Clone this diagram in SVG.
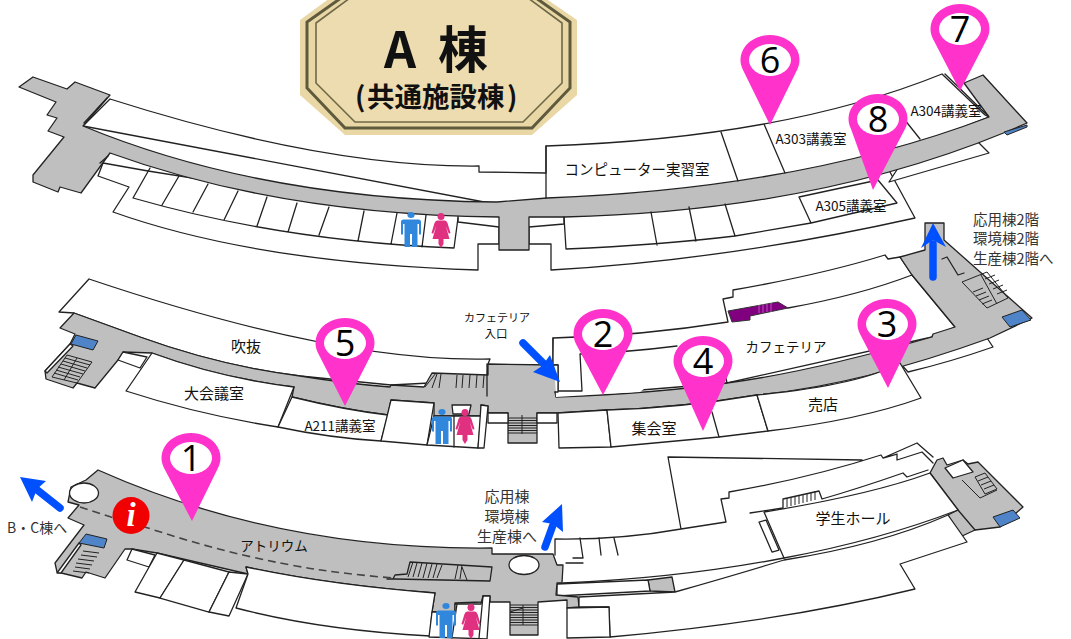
<svg xmlns="http://www.w3.org/2000/svg" xmlns:xlink="http://www.w3.org/1999/xlink" width="1071" height="639" viewBox="0 0 1071 639">
<style>
text{font-family:"Noto Sans CJK JP","Noto Sans",sans-serif;fill:#111;dominant-baseline:central}
.g{fill:#bfbfbf;stroke:#222;stroke-width:1.3;stroke-linejoin:round}
.r{fill:#fff;stroke:#222;stroke-width:1.3;stroke-linejoin:round}
.l{fill:none;stroke:#222;stroke-width:1.3;stroke-linejoin:round;stroke-linecap:round}
.s{fill:none;stroke:#222;stroke-width:1}
.b{fill:#4f84c8;stroke:#222;stroke-width:1}
.pin{fill:#ff33cc}
.num{font-family:"Open Sans","Noto Sans",sans-serif;font-size:36px;text-anchor:middle;fill:#000}
.t15{font-size:15px;text-anchor:middle}
.t13{font-size:13.5px;text-anchor:middle}
.t14g{font-size:14.5px;fill:#333}
.t15g{font-size:15px;fill:#333;text-anchor:middle}
.arr{fill:none;stroke:#0050ff;stroke-width:7.5;stroke-linecap:round}
.head{fill:#0050ff}
.man{fill:#3087dc}
.woman{fill:#e03080}
</style>
<defs>
<g id="man-icon"><ellipse cx="0" cy="3" rx="3.6" ry="3"/><path d="M-7.5 7.500H7.500Q10 7.500 10 10V22.500H8V12H6.500V35H1V22H-1V35H-6.500V12H-8V22.500H-10V10Q-10 7.500-7.500 7.500Z"/></g>
<g id="woman-icon"><circle cx="0" cy="3.500" r="3.500"/><path d="M-4 7.500H4Q5.500 7.500 6.500 10L9.500 20L7.800 20.800L4.800 13L8.500 26H2.500V31L0 35L-2.500 31V26H-8.500L-4.800 13L-7.800 20.800L-9.500 20L-6.500 10Q-5.500 7.500-4 7.500Z"/></g>
<ellipse id="pin-eye" cx="0" cy="0" rx="21" ry="16" fill="#fff"/>
</defs>

<g id="title-badge">
<path d="M330 -2L300 20V95L345 135H532L577 95V20L545 -2Z" fill="#e9d8a6"/>
<path d="M341 -2L307 22V88L345 128H532L570 88V22L536 -2" fill="none" stroke="#5f5a3c" stroke-width="3"/>
<path d="M350 -2L316 23V83L355 122H523L562 83V23L528 -2" fill="#ecdcb0" stroke="#6e6848" stroke-width="1.6"/>
<text x="384" y="46" font-size="50" font-weight="700">A <tspan x="438">棟</tspan></text>
<text x="355" y="95" font-size="27.5" font-weight="700">(<tspan x="367">共通施設棟</tspan><tspan x="507">)</tspan></text>
</g>

<g id="floor-3">
<path class="r" d="M110 99Q325.500 167.500 479 166L479 172 546 173 546 146Q784 138 942 74L985 115 989 117 800 190 500 205 83 126Z"/>
<path class="r" d="M103 163L148 171 300 195 458 212 458 222 499 227V244H478V270Q256.500 263 113 212L129 187 98 176Z"/>
<path class="r" d="M529 227L564 224V212L811 188 890 170 890 172 915 218Q727 260 551 270V244H529Z"/>
<path class="r" d="M889 182L989 153 978 142 900 165Z"/>
<path class="g" d="M19 87L33 77 67 89 75 82 110 95 83 126Q262 200 497 202L547 198Q802 188.500 989 117L964 83 983 75 1027 123 1006 132Q813 211.500 564 217L529 217 529 250 499 250 499 217Q281.500 215 110 153L81 193 60 187 58 192 33 182 33 175 64 137 48 131 57 118 47 115 56 102Z"/>
<path class="b" d="M1004 132L1027 125 1027 127 1007 135Z"/>
<path class="l" d="M108 156L100 163M546 146V198M721 132L738 181M764 124L785 173M885 95L920 139"/>
<path class="l" d="M945 74L988 116M84 123L107 98"/>
<path class="l" d="M150 168L133 198Q282.500 241 454 248L458 218M179 176L162 205M208 184L193 212M238 191L224 220M267 197L257 226M297 203L288 232M329 207L319 235M364 211L358 241M397 213L391 244M426 215L422 247"/>
<path class="l" d="M564 217L566 249Q660 245 735 236L811 223 897 203 878 180M651 212L657 245M689 207L696 241M725 204L735 236M799 197L811 223M799 197L878 180"/>
</g>

<g id="floor-2">
<path class="r" d="M89 279Q338.500 363 490 359L488 364 487 380 391 385 300 376Q220 366 140 337L74 313 59 312Z"/>
<path class="r" d="M553 338Q640 336 728 322L723 299 733 297 733 290Q820 275 885 255L888 259 900 257 912 275 955 327 932 337 727 383 556 397 553 365Z"/>
<path class="r" d="M908 372Q950 362 993 347L987 338 900 363Z"/>
<path class="g" d="M74 313L140 337Q220 366 300 376Q350 384 390 387L391 385 424 387 432 373 488 375 488 364 553 365 558 365 558 392 555 392 556 397Q660 393 727 383Q810 372 932 337L933 334 955 327 912 275 900 257 925 250 925 223 944 223 944 240 1032 318 990 338Q860 385 757 395Q680 408 607 410L557 413 537 413 537 443 508 443 508 413 488 413 488 406 481 405 481 416 434 416 434 403 391 400 388 415Q345 410 292 397L294 387Q220 378 152 353L123 352 118 360 95 388 77 383 73 388 46 379 45 371 70 344 75 334 60 328Z"/>
<path class="r" d="M123 352L147 357 140 368 118 360Z"/>
<path class="r" d="M152 353Q220 378 294 387L278 427Q200 415 126 391Z"/>
<path class="r" d="M292 397Q345 410 388 415L381 441Q330 438 278 427Z"/>
<path class="r" d="M391 400L434 403 427 445 381 441Z"/>
<path class="r" d="M434 416H481L478 448 427 445Z"/>
<path class="l" d="M454 416V447"/>
<path class="r" d="M452 405H471L469 414H453Z"/>
<path class="r" d="M481 405L488 406 484 448 478 448Z"/>
<path class="r" d="M488 413H508V423H488ZM537 413H557V423H537Z"/>
<path class="r" d="M558 413L607 410 611 447 559 448Z"/>
<path class="r" d="M607 410Q680 408 757 395L768 431 719 437 611 447Z"/>
<path class="r" d="M757 395Q860 385 900 363L921 398Q860 420 768 431Z"/>
<path class="l" d="M712 412L719 437"/>
<path class="r" d="M553 338V365H558V391H582L580 354Q630 352 677 346L682 360 640 392 556 397Z" style="stroke:none"/>
<path class="l" d="M553 338V365H558V391L582 391 580 354Q630 352 677 346M555 392H558M788 308Q860 295 912 275M725 373L727 383M487 364V396"/>
<path d="M728 311L778 302 788 308 750 316V320L732 322Z" fill="#800080" stroke="#333" stroke-width="1"/>
<path d="M759 305V313M763 304V313M767 304V312M771 303V312" stroke="#c050c0" stroke-width="1"/>
<path class="l" d="M942 259L947 257 958 275 964 273"/>
<path class="s" d="M962 282L987 272 1008 298 987 308ZM981 275L997 304M973 292L983 288M976 296L986 292M979 300L989 296M982 304L992 300M985 279L995 275M989 284L999 280M993 289L1003 285M997 294L1007 290"/>
<path class="b" d="M1002 317L1022 310 1031 320 1010 327Z"/>
<path class="b" d="M76 335L98 341 93 350 71 344Z"/>
<path class="r" d="M45 371L70 344 73 346 47 373Z"/>
<path class="s" d="M67 355L92 362 77 383 52 377ZM65 358L90 365M63 361L87 368M61 364L85 371M58 367L83 374M56 370L80 377M54 373L78 380M77 358L64 380"/>
<path class="s" d="M425 387L436 373M432 388L437 374M439 388L441 374M456 388L457 375M462 388L463 375M469 388L470 375M476 388L477 375M483 388L484 375"/>
<path class="s" d="M508 418H537M508 420.500H537M508 423H537M508 425.500H537M508 428H537M508 430.500H537M508 433H537M522 415V434"/>
<text class="t15" x="246" y="345">吹抜</text>
<text class="t15" x="214" y="392">大会議室</text>
<text class="t13" x="340" y="425">A211講義室</text>
<text x="497" y="317" font-size="11" text-anchor="middle">カフェテリア</text>
<text x="496" y="333" font-size="11.500" text-anchor="middle">入口</text>
<text class="t13" x="786" y="346">カフェテリア</text>
<text class="t15" x="823" y="403">売店</text>
<text class="t15" x="654" y="427">集会室</text>
</g>

<g id="floor-1">
<path class="l" d="M555 555V539Q620 540 681 529L726 522 721 499 729 498 729 492Q810 478 881 455L883 458 917 443 933 457M681 529L668 457 862 460M897 460L922 452 933 463M883 458L897 454 897 460"/>
<path class="l" d="M750 513L783 508 783 499 819 491 822 499Q860 488 903 473L907 477 928 470"/>
<path class="s" d="M787 498V507M791 497V506M795 496V505M799 495V504M803 494V503M807 493V502M811 492V501M815 491V500"/>
<path class="l" d="M580 538L583 558H573M583 563H566M599 538L601 555M614 538L618 555"/>
<path class="g" d="M930 473L937 460 943 458 947 465 963 460 968 464 978 462 1023 507 1000 527 975 530 960 537 948 515 958 510Z"/>
<path class="r" d="M945 468L963 460 973 472 953 478Z"/>
<path class="s" d="M962 480L980 498 997 490M975 477L985 473 997 489 985 494ZM978 481L988 477M981 485L991 481M984 489L994 485"/>
<path class="l" d="M958 510L975 530"/>
<path class="b" d="M993 517L1013 510 1020 518 1000 527Z"/>
<path class="r" d="M764 512Q870 495 930 473L958 510Q880 540 784 558Z"/>
<path class="r" d="M759 522L766 520 779 550 772 552Z"/>
<path class="l" d="M563 583Q680 578 784 558"/>
<path class="g" d="M648 580L672 577 675 592 650 591Z"/>
<path class="r" d="M557 584L648 580 650 591 557 596Z"/>
<path class="g" d="M98 470Q278.500 550.500 492 548L492 554 553 554 557 565 563 565 562 583 557 583 556 595 578 597 579 607 567 608 567 600 538 602 538 635 510 635 510 602 490 602 490 596 483 596 482 602 455 603 455 612 432 612 435 593Q330 585 246 567L248 574 157 553 132 549 125 549 105 578 86 572 82 578 57 572 55 563 84 525 68 518 79 505 68 502 71 487 86 480Z"/>
<ellipse class="r" cx="84" cy="493" rx="14.500" ry="10"/>
<ellipse class="r" cx="524" cy="565" rx="15" ry="9.500"/>
<path class="r" d="M132 549L127 560 149 567 155 555Z"/>
<path class="r" d="M157 553L135 592 160 598 184 560Z"/>
<path class="r" d="M184 560L160 598 209 612 229 572Z"/>
<path class="r" d="M229 572L209 612 229 616 248 574Z"/>
<path class="r" d="M246 567Q330 585 435 593L432 612 430 636Q320 630 236 608L248 574Z"/>
<path class="r" d="M432 612H455V604H481L483 596H490L487 639 429 637Z"/>
<path class="l" d="M457 604L452 638M483 596L479 638"/>
<path class="r" d="M579 597L675 592Q735 575 784 560Q880 545 948 515L967 542 900 564 915 589Q780 622 610 637L609 607H579Z"/>
<path class="r" d="M567 608L609 607 610 637 567 638Z"/>
<path class="b" d="M86 534L107 539 104 548 79 543Z"/>
<path class="r" d="M79 543L57 573 61 573 81 545Z"/>
<path class="s" d="M83 551L99 553M81 555L97 557M78 559L94 561M76 563L92 565M75 567L90 569M73 571L89 573"/>
<path class="g" d="M387 579L393 579 395 575 407 574 410 562 492 567 490 581 395 579Z"/>
<path class="s" d="M408 577L413 562M413 577L417 563M418 577L422 563M423 578L427 563M428 578L432 564M433 578L437 564M437 578L442 565M455 579L458 565M460 579L462 565M462 567L467 580"/>
<path class="s" d="M510 605H538M510 607.500H538M510 610H538M510 612.500H538M510 615H538M510 617.500H538M510 620H538M510 622.500H538M510 625H538M510 612L523 608M523 605V625"/>
<path d="M80 507L111 517 148 528Q200 545 243 555T321 570T393 578" fill="none" stroke="#444" stroke-width="1.600" stroke-dasharray="8 5"/>
<text x="274" y="545" font-size="13.500" text-anchor="middle">アトリウム</text>
<text class="t15g" x="853" y="517" style="fill:#111">学生ホール</text>
</g>

<g id="labels">
<text class="t13" x="811" y="138">A303講義室</text>
<text x="637" y="168" font-size="14.500" text-anchor="middle">コンピューター実習室</text>
<text class="t13" x="946" y="110">A304講義室</text>
<text class="t13" x="851" y="205">A305講義室</text>
<text class="t14g" x="973" y="218">応用棟2階</text>
<text class="t14g" x="973" y="237">環境棟2階</text>
<text class="t14g" x="973" y="257">生産棟2階へ</text>
<text class="t15g" x="507" y="495">応用棟</text>
<text class="t15g" x="507" y="515">環境棟</text>
<text class="t15g" x="507" y="535">生産棟へ</text>
<text x="7" y="527" font-size="14" style="fill:#333">B・C棟へ</text>
</g>

<g id="toilets">
<use href="#man-icon" class="man" x="411" y="212"/><use href="#woman-icon" class="woman" x="441" y="213"/>
<use href="#man-icon" class="man" x="442" y="409"/><use href="#woman-icon" class="woman" x="465" y="409"/>
<use href="#man-icon" class="man" x="446" y="603"/><use href="#woman-icon" class="woman" x="471" y="604"/>
</g>

<g id="info"><circle cx="131" cy="515.500" r="18.500" fill="#f00000"/><text x="131" y="515" font-size="33" font-weight="700" font-style="italic" text-anchor="middle" style="font-family:'Liberation Serif',serif;fill:#fff">i</text></g>

<g id="connectors">
<path class="arr" d="M523 343L546 366"/><path class="head" d="M560 382L533 372 542 366 550 355Z"/>
<path class="arr" d="M933 277V244"/><path class="head" d="M933 223L946 247 933 240 921 248Z"/>
<path class="arr" d="M60 508L36 489"/><path class="head" d="M20 477L46 481 37 489 32 502Z"/>
<path class="arr" d="M545 547L553 525"/><path class="head" d="M562 504L563 532 553 524 542 522Z"/>
</g>

<g id="pin-1" transform="translate(191 458)"><path class="pin" d="M1 63L-27 10A29.500 25 0 1 1 27 10Z"/><use href="#pin-eye"/><text class="num" y="-1">1</text></g>
<g id="pin-2" transform="translate(603 334)"><path class="pin" d="M0 61L-27 10A29.500 25 0 1 1 27 10Z"/><use href="#pin-eye"/><text class="num" y="-1">2</text></g>
<g id="pin-3" transform="translate(887 324)"><path class="pin" d="M1 64L-27 10A29.500 25 0 1 1 27 10Z"/><use href="#pin-eye"/><text class="num" y="-1">3</text></g>
<g id="pin-4" transform="translate(703 361)"><path class="pin" d="M0 70L-27 10A29.500 25 0 1 1 27 10Z"/><use href="#pin-eye"/><text class="num" y="-1">4</text></g>
<g id="pin-5" transform="translate(345 343)"><path class="pin" d="M0 63L-27 10A29.500 25 0 1 1 27 10Z"/><use href="#pin-eye"/><text class="num" y="-1">5</text></g>
<g id="pin-6" transform="translate(770 60)"><path class="pin" d="M0 65L-27 10A29.500 25 0 1 1 27 10Z"/><use href="#pin-eye"/><text class="num" y="-1">6</text></g>
<g id="pin-7" transform="translate(960 29)"><path class="pin" d="M0 62L-27 10A29.500 25 0 1 1 27 10Z"/><use href="#pin-eye"/><text class="num" y="-1">7</text></g>
<g id="pin-8" transform="translate(878 119)"><path class="pin" d="M-5 71L-27 10A29.500 25 0 1 1 27 10Z"/><use href="#pin-eye"/><text class="num" y="-1">8</text></g>
</svg>
